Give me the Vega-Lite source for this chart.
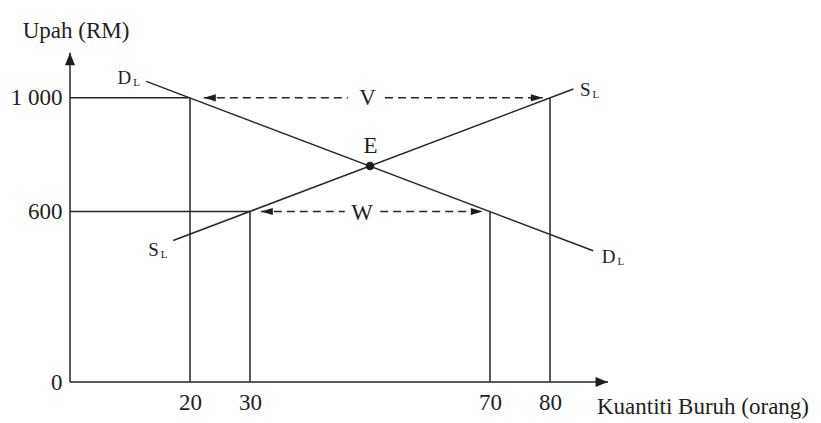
{
  "$schema": "https://vega.github.io/schema/vega-lite/v6.json",
  "autosize": {"type": "none"},
  "padding": {"left": 70, "top": 41, "right": 151, "bottom": 41},
  "width": 600,
  "height": 341,
  "background": "white",
  "config": {
    "view": {"stroke": null},
    "text": {"font": "Liberation Serif", "color": "#1e1e1e"}
  },
  "datasets": {
    "frame": [
      {"q": 0, "w": 0, "q2": 0, "w2": 1159},
      {"q": 0, "w": 0, "q2": 89.67, "w2": 0},
      {"q": 0, "w": 1000, "q2": 20, "w2": 1000},
      {"q": 20, "w": 0, "q2": 20, "w2": 1000},
      {"q": 0, "w": 600, "q2": 30, "w2": 600},
      {"q": 30, "w": 0, "q2": 30, "w2": 600},
      {"q": 70, "w": 0, "q2": 70, "w2": 600},
      {"q": 80, "w": 0, "q2": 80, "w2": 1000}
    ],
    "curves": [
      {"series": "DL", "q": 12.7, "w": 1058},
      {"series": "DL", "q": 87.2, "w": 462},
      {"series": "SL", "q": 17.2, "w": 498},
      {"series": "SL", "q": 83.9, "w": 1031}
    ],
    "dashes": [
      {"q": 22.3, "q2": 46.3, "w": 1000},
      {"q": 52.5, "q2": 78.8, "w": 1000},
      {"q": 31.8, "q2": 45.8, "w": 600},
      {"q": 51.7, "q2": 68.8, "w": 600}
    ],
    "heads": [
      {"q": 0, "w": 1159, "dir": "up"},
      {"q": 89.67, "w": 0, "dir": "right"},
      {"q": 22.3, "w": 1000, "dir": "left"},
      {"q": 78.8, "w": 1000, "dir": "dright"},
      {"q": 31.8, "w": 600, "dir": "left"},
      {"q": 68.8, "w": 600, "dir": "dright"}
    ],
    "equilibrium": [{"q": 50, "w": 760}],
    "letters": [
      {"text": "E", "q": 50.1, "w": 807},
      {"text": "V", "q": 49.6, "w": 974},
      {"text": "W", "q": 48.7, "w": 571}
    ],
    "curvelabels": [
      {"main": "D", "sub": "L", "q": 10.2, "w": 1048},
      {"main": "S", "sub": "L", "q": 14.8, "w": 443},
      {"main": "S", "sub": "L", "q": 86.75, "w": 1008},
      {"main": "D", "sub": "L", "q": 90.9, "w": 420}
    ],
    "titles": [
      {"text": "Upah (RM)", "q": 1, "w": 1209},
      {"text": "Kuantiti Buruh (orang)", "q": 105.5, "w": -112.6}
    ]
  },
  "encoding": {
    "x": {
      "field": "q",
      "type": "quantitative",
      "scale": {"domain": [0, 100], "nice": false, "zero": false},
      "axis": {
        "values": [20, 30, 70, 80],
        "title": null,
        "domain": false,
        "ticks": false,
        "tickSize": 0,
        "grid": false,
        "labelPadding": 9,
        "labelFont": "Liberation Serif",
        "labelFontSize": 23,
        "labelColor": "#1e1e1e",
        "labelFlush": false,
        "labelOverlap": false
      }
    },
    "y": {
      "field": "w",
      "type": "quantitative",
      "scale": {"domain": [0, 1200], "nice": false, "zero": false},
      "axis": {
        "values": [0, 600, 1000],
        "labelExpr": "datum.value == 1000 ? '1 000' : datum.label",
        "title": null,
        "domain": false,
        "ticks": false,
        "tickSize": 0,
        "grid": false,
        "labelPadding": 8,
        "labelFont": "Liberation Serif",
        "labelFontSize": 23,
        "labelColor": "#1e1e1e",
        "labelFlush": false,
        "labelOverlap": false
      }
    }
  },
  "layer": [
    {
      "data": {"name": "frame"},
      "mark": {"type": "rule", "color": "#262626", "strokeWidth": 1.5},
      "encoding": {
        "x2": {"field": "q2"},
        "y2": {"field": "w2"}
      }
    },
    {
      "data": {"name": "dashes"},
      "mark": {"type": "rule", "color": "#262626", "strokeWidth": 1.5, "strokeDash": [8, 5]},
      "encoding": {
        "x2": {"field": "q2"}
      }
    },
    {
      "data": {"name": "curves"},
      "mark": {"type": "line", "color": "#262626", "strokeWidth": 1.5},
      "encoding": {
        "detail": {"field": "series"}
      }
    },
    {
      "data": {"name": "heads"},
      "mark": {"type": "point", "filled": true, "color": "#1e1e1e", "opacity": 1, "size": 576, "strokeWidth": 0},
      "encoding": {
        "shape": {
          "field": "dir",
          "type": "nominal",
          "legend": null,
          "scale": {
            "domain": ["up", "right", "left", "dright"],
            "range": [
              "M0,0L0.42,1.04L-0.42,1.04Z",
              "M0,0L-1.04,-0.42L-1.04,0.42Z",
              "M0,0L1,-0.3L1,0.3Z",
              "M0,0L-1,-0.3L-1,0.3Z"
            ]
          }
        }
      }
    },
    {
      "data": {"name": "equilibrium"},
      "mark": {"type": "circle", "color": "#1e1e1e", "opacity": 1, "size": 75}
    },
    {
      "data": {"name": "letters"},
      "mark": {"type": "text", "fontSize": 23, "align": "center", "baseline": "alphabetic"},
      "encoding": {"text": {"field": "text"}}
    },
    {
      "data": {"name": "curvelabels"},
      "mark": {"type": "text", "fontSize": 19, "align": "right", "baseline": "alphabetic"},
      "encoding": {"text": {"field": "main"}}
    },
    {
      "data": {"name": "curvelabels"},
      "mark": {"type": "text", "fontSize": 11, "align": "left", "baseline": "alphabetic", "dx": 2, "dy": 2},
      "encoding": {"text": {"field": "sub"}}
    },
    {
      "data": {"name": "titles"},
      "mark": {"type": "text", "fontSize": 23, "align": "center", "baseline": "alphabetic"},
      "encoding": {"text": {"field": "text"}}
    }
  ]
}
